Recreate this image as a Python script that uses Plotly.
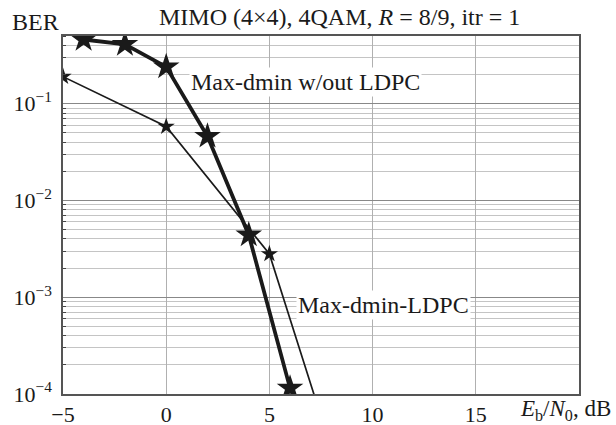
import plotly.graph_objects as go

# Data
snr_thick = [-4, -2, 0, 2, 4, 6]
ber_thick = [0.46, 0.41, 0.24, 0.046, 0.0044, 0.000115]
snr_thin = [-5, 0, 5, 8]
ber_thin = [0.19, 0.058, 0.0028, 0.000027]

xticks = [-5, 0, 5, 10, 15]
xticklabels = ["−5", "0", "5", "10", "15"]
yticks = [1e-4, 1e-3, 1e-2, 1e-1]
yticklabels = ["10<sup>−4</sup>", "10<sup>−3</sup>", "10<sup>−2</sup>", "10<sup>−1</sup>"]

minor_vals = [m * 10.0 ** e for e in range(-4, 0) for m in range(2, 10)]
minor_vals = [v for v in minor_vals if v <= 0.5]

FONT = "Liberation Serif"
INK = "#1a1a1a"

fig = go.Figure()
fig.add_trace(go.Scatter(
    x=snr_thin, y=ber_thin, mode="lines+markers",
    line=dict(color=INK, width=1.7),
    marker=dict(symbol="star", size=13, color=INK),
    showlegend=False, hoverinfo="skip",
))
fig.add_trace(go.Scatter(
    x=snr_thick, y=ber_thick, mode="lines+markers",
    line=dict(color=INK, width=3.8),
    marker=dict(symbol="star", size=20, color=INK),
    showlegend=False, hoverinfo="skip",
))

fig.update_layout(
    width=616, height=425,
    margin=dict(l=63, r=37, t=36, b=31),
    paper_bgcolor="white", plot_bgcolor="white",
    font=dict(family=FONT, size=22, color=INK),
    hovermode=False,
    xaxis=dict(
        range=[-5, 20], tickvals=xticks, ticktext=xticklabels, automargin=False,
        showgrid=True, gridcolor="#b0b0b0", gridwidth=1,
        zeroline=False, showline=True, linecolor="#555", linewidth=1.5,
        mirror=True, ticks="", tickfont=dict(size=22), ticklabelstandoff=0,
    ),
    yaxis=dict(
        type="log", range=[-4, -0.301], tickvals=yticks, ticktext=yticklabels,
        automargin=False, ticklabelstandoff=5,
        showgrid=True, gridcolor="#888", gridwidth=1.2,
        zeroline=False, showline=True, linecolor="#555", linewidth=1.5,
        mirror=True, ticks="", tickfont=dict(size=22),
        minor=dict(tickvals=minor_vals, showgrid=True, gridcolor="#c4c4c4",
                   gridwidth=1, ticks="inside", ticklen=3, tickcolor="#444"),
    ),
    annotations=[
        dict(text="MIMO (4×4), 4QAM, <i>R</i> = 8/9, itr = 1", xref="paper", yref="paper",
             x=0.535, y=1, yshift=19, xanchor="center", yanchor="middle",
             showarrow=False, font=dict(size=24)),
        dict(text="BER", xref="paper", yref="paper", x=0, xshift=-53, y=1, yshift=14,
             xanchor="left", yanchor="middle", showarrow=False, font=dict(size=24)),
        dict(text="<i>E</i><sub>b</sub>/<i>N</i><sub>0</sub>, dB", xref="paper", yref="paper",
             x=1, xshift=34, y=0, yshift=-16, xanchor="right", yanchor="middle",
             showarrow=False, font=dict(size=23)),
        dict(text="Max-dmin w/out LDPC", xref="x", yref="y", x=1.1, y=-0.78,
             xanchor="left", yanchor="middle", showarrow=False, bgcolor="white",
             font=dict(size=24)),
        dict(text="Max-dmin-LDPC", xref="x", yref="y", x=6.3, y=-3.08,
             xanchor="left", yanchor="middle", showarrow=False, bgcolor="white",
             font=dict(size=24)),
    ],
)

# remove the browser's default 8px body margin so the figure fills the window
fig.write_html("out.html", config={"displayModeBar": False},
               post_script="document.body.style.margin='0';")
